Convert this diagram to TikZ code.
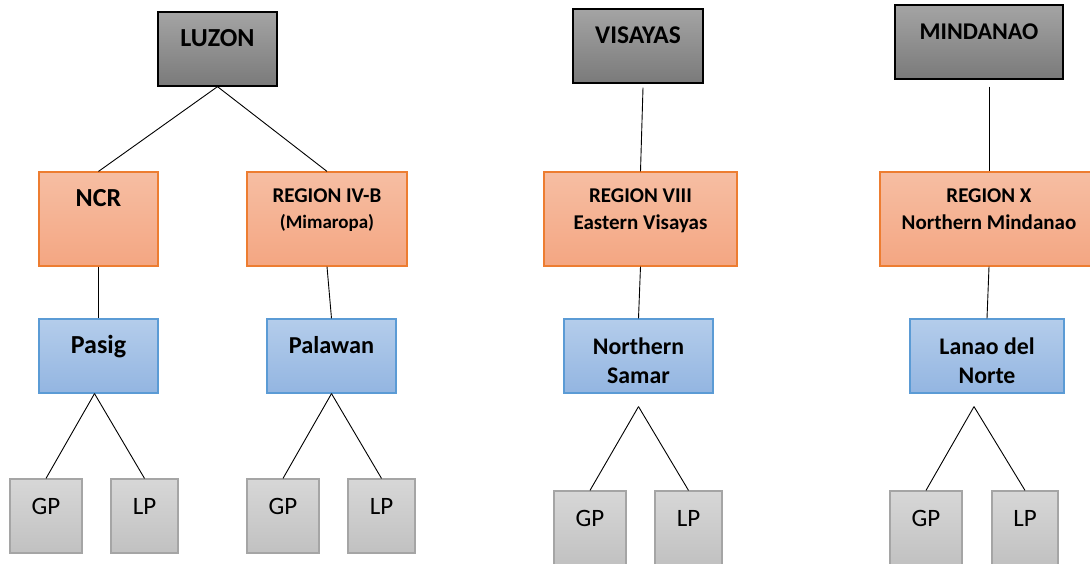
\documentclass[tikz,border=0pt]{standalone}
\usepackage{fontspec}
\setmainfont{Carlito}
\usetikzlibrary{positioning}

\definecolor{islandtop}{HTML}{A4A4A4}
\definecolor{islandbot}{HTML}{7A7A7A}
\definecolor{regiontop}{HTML}{F6BEA3}
\definecolor{regionbot}{HTML}{F4A682}
\definecolor{regionedge}{HTML}{ED7D31}
\definecolor{provtop}{HTML}{B4CDEB}
\definecolor{provbot}{HTML}{93B5E1}
\definecolor{provedge}{HTML}{5B9BD5}
\definecolor{partytop}{HTML}{D7D7D7}
\definecolor{partybot}{HTML}{C1C1C1}
\definecolor{partyedge}{HTML}{A5A5A5}

\tikzset{
  island/.style={draw=black,line width=1.3pt,top color=islandtop,bottom color=islandbot,minimum height=74pt,inner sep=0pt},
  region/.style={draw=regionedge,line width=1.2pt,top color=regiontop,bottom color=regionbot,minimum height=94pt,inner sep=0pt},
  prov/.style={draw=provedge,line width=1.2pt,top color=provtop,bottom color=provbot,minimum height=74pt,inner sep=0pt},
  party/.style={draw=partyedge,line width=1.2pt,top color=partytop,bottom color=partybot,minimum height=74pt,inner sep=0pt},
  lbl/.style={inner sep=0pt,align=center},
  link/.style={draw=black,line width=0.9pt}
}

\begin{document}
\begin{tikzpicture}[x=1pt,y=-1pt]
        \useasboundingbox (0,0) rectangle (1090,563);
        \clip (0,0) rectangle (1090,563);
        % island groups
        \node[island,minimum width=119pt] (luzon) at (217.5,49){};
        \node[island,minimum width=130pt] (visayas) at (638,46){};
        \node[island,minimum width=168pt] (mindanao) at (979,42){};
        % regions
        \node[region,minimum width=119pt] (ncr) at (98.5,219){};
        \node[region,minimum width=160pt] (r4b) at (327,219){};
        \node[region,minimum width=193pt] (r8) at (640.5,219){};
        \node[region,minimum width=218pt] (r10) at (989,219){};
        % provinces
        \node[prov,minimum width=119pt] (pasig) at (98.5,356){};
        \node[prov,minimum width=129pt] (palawan) at (331.5,356){};
        \node[prov,minimum width=149pt] (nsamar) at (638.5,356){};
        \node[prov,minimum width=154pt] (lanao) at (987,356){};
        % parties
        \node[party,minimum width=72pt] (gp1) at (46,516){};
        \node[party,minimum width=67pt] (lp1) at (144.5,516){};
        \node[party,minimum width=72pt] (gp2) at (283,516){};
        \node[party,minimum width=67pt] (lp2) at (381.5,516){};
        \node[party,minimum width=72pt] (gp3) at (590,528){};
        \node[party,minimum width=67pt] (lp3) at (688.5,528){};
        \node[party,minimum width=72pt] (gp4) at (926,528){};
        \node[party,minimum width=66pt] (lp4) at (1025,528){};
        % labels
        \node[lbl,font=\fontsize{26}{30}\selectfont\bfseries,below=18pt of luzon.north] (luzonlbl) {LUZON};
        \node[lbl,font=\fontsize{25.5}{30}\selectfont\bfseries,below=18pt of visayas.north] (visayaslbl) {VISAYAS};
        \node[lbl,font=\fontsize{24}{29}\selectfont\bfseries,below=19pt of mindanao.north] (mindanaolbl) {MINDANAO};
        \node[lbl,font=\fontsize{26}{30}\selectfont\bfseries,below=18pt of ncr.north] (ncrlbl) {NCR};
        \node[lbl,font=\fontsize{21}{26}\selectfont\bfseries,below=17pt of r4b.north] (r4blbl) {REGION IV-B\\{\fontsize{19}{26}\selectfont(Mimaropa)}};
        \node[lbl,font=\fontsize{21}{27}\selectfont\bfseries,below=17pt of r8.north] (r8lbl) {REGION VIII\\Eastern Visayas};
        \node[lbl,font=\fontsize{21}{27}\selectfont\bfseries,below=17pt of r10.north] (r10lbl) {REGION X\\Northern Mindanao};
        \node[lbl,font=\fontsize{26}{30}\selectfont\bfseries,below=17pt of pasig.north] (pasiglbl) {Pasig};
        \node[lbl,font=\fontsize{24.3}{29}\selectfont\bfseries,below=18pt of palawan.north] (palawanlbl) {Palawan};
        \node[lbl,font=\fontsize{23.8}{29}\selectfont\bfseries,below=19pt of nsamar.north] (nsamarlbl) {Northern\\Samar};
        \node[lbl,font=\fontsize{23.8}{29}\selectfont\bfseries,below=19pt of lanao.north] (lanaolbl) {Lanao del\\Norte};
        \foreach \p/\t in {gp1/GP,lp1/LP,gp2/GP,lp2/LP,gp3/GP,lp3/LP,gp4/GP,lp4/LP}
          \node[lbl,font=\fontsize{25}{29}\selectfont,below=20pt of \p.north] (\p lbl) {\t};
        % free ends of the links
        \coordinate (vtop) at ([shift={(5,4)}]visayas.south);
        \coordinate (mtop) at ([yshift=-7pt]mindanao.south -| r10.north);
        \coordinate (pasigfork) at ([xshift=-4pt]pasig.south);
        \coordinate (nsfork) at ([yshift=-13pt]nsamar.south);
        \coordinate (lanaofork) at ([shift={(-13,13)}]lanao.south);
        % links
        \draw[link] (luzon.south) -- (ncr.north);
        \draw[link] (luzon.south) -- (r4b.north);
        \draw[link] (vtop) -- (r8.north);
        \draw[link] (mtop) -- (r10.north);
        \draw[link] (ncr.south) -- (pasig.north);
        \draw[link] (r4b.south) -- (palawan.north);
        \draw[link] (r8.south) -- (nsamar.north);
        \draw[link] (r10.south) -- (lanao.north);
        \draw[link] (pasigfork) -- (gp1.north);
        \draw[link] (pasigfork) -- (lp1.north);
        \draw[link] (palawan.south) -- (gp2.north);
        \draw[link] (palawan.south) -- (lp2.north);
        \draw[link] (nsfork) -- (gp3.north);
        \draw[link] (nsfork) -- (lp3.north);
        \draw[link] (lanaofork) -- (gp4.north);
        \draw[link] (lanaofork) -- (lp4.north);
\end{tikzpicture}
\end{document}
